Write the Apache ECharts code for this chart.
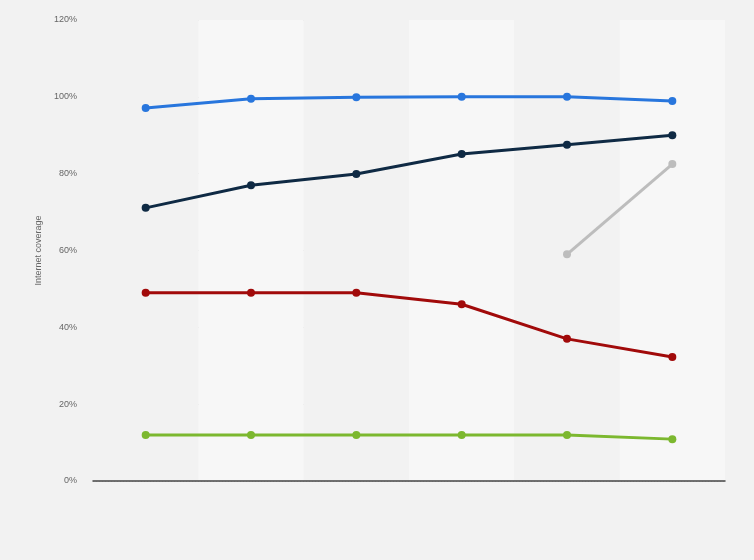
<!DOCTYPE html>
<html>
<head>
<meta charset="utf-8">
<script src="https://cdn.jsdelivr.net/npm/echarts@6/dist/echarts.min.js"></script>
<style>html,body{margin:0;padding:0;background:#f2f2f2;}#c{width:754px;height:560px;}</style>
</head>
<body>
<div id="c"></div>
<script>
const categories = ['1', '2', '3', '4', '5', '6'];
const yTicks = [0, 20, 40, 60, 80, 100, 120];
const blueSeries = [97.1, 99.5, 99.9, 100, 100, 98.9];
const navySeries = [71.1, 77, 79.9, 85.1, 87.5, 90];
const graySeries = [null, null, null, null, 59, 82.5];
const redSeries = [49, 49, 49, 46, 37, 32.3];
const greenSeries = [12, 12, 12, 12, 12, 10.9];

const mk = (data, color) => ({
  type: 'line', data, symbol: 'circle', symbolSize: 8,
  lineStyle: { width: 3, color }, itemStyle: { color },
  connectNulls: false, animation: false
});

const chart = echarts.init(document.getElementById('c'));
chart.setOption({
  backgroundColor: '#f2f2f2',
  grid: { left: 93, right: 29, top: 20, bottom: 79 },
  xAxis: {
    type: 'category', data: categories, boundaryGap: true,
    axisLine: { show: true, lineStyle: { color: '#444', width: 1.5 } },
    axisTick: { show: false }, axisLabel: { show: false },
    splitArea: { show: true, areaStyle: { color: ['#f2f2f2', '#f7f7f7'] } }
  },
  yAxis: {
    type: 'value', min: yTicks[0], max: yTicks[yTicks.length - 1], interval: 20,
    name: 'Internet coverage', nameLocation: 'middle', nameGap: 49,
    nameTextStyle: { color: '#666', fontSize: 9, fontFamily: 'Arial, Liberation Sans' },
    axisLine: { show: false }, axisTick: { show: false },
    axisLabel: { color: '#666', fontSize: 9, margin: 16, formatter: '{value}%', fontFamily: 'Arial, Liberation Sans' },
    splitLine: { lineStyle: { color: '#d6d6d6', type: [1, 2] } }
  },
  series: [
    mk(blueSeries, '#2876dd'),
    mk(navySeries, '#0f2a44'),
    mk(graySeries, '#bdbdbd'),
    mk(redSeries, '#a10a0a'),
    mk(greenSeries, '#7cb82f')
  ]
});
</script>
</body>
</html>
